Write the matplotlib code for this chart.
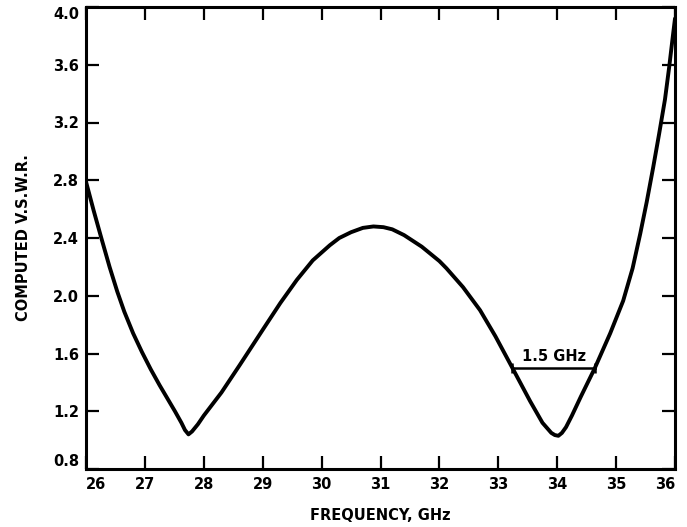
import matplotlib
matplotlib.use("Agg")
import matplotlib.pyplot as plt

# Data
freq = [26.0, 26.13, 26.26, 26.4, 26.53, 26.65, 26.8, 26.95, 27.1, 27.25, 27.38, 27.51,
        27.62, 27.68, 27.74, 27.8, 27.9, 28.0, 28.3, 28.61, 29.01, 29.3, 29.58,
        29.85, 30.14, 30.3, 30.5, 30.7, 30.88, 31.05, 31.2, 31.4, 31.55, 31.7,
        31.85, 32.0, 32.12, 32.4, 32.69, 32.95, 33.2, 33.54, 33.75, 33.9, 33.96,
        34.02, 34.08, 34.15, 34.25, 34.4, 34.64, 34.9, 35.12, 35.28, 35.41,
        35.52, 35.63, 35.73, 35.83, 35.9, 35.97, 36.0]
vswr = [2.79, 2.59, 2.40, 2.20, 2.03, 1.89, 1.74, 1.61, 1.49, 1.38, 1.29, 1.20,
        1.12, 1.07, 1.04, 1.06, 1.11, 1.17, 1.33, 1.52, 1.77, 1.95, 2.11,
        2.245, 2.35, 2.40, 2.44, 2.47, 2.48, 2.475, 2.46, 2.42, 2.38, 2.34,
        2.29, 2.24, 2.19, 2.06, 1.90, 1.72, 1.53, 1.27, 1.12, 1.05, 1.035,
        1.03, 1.05, 1.09, 1.17, 1.30, 1.50, 1.74, 1.965, 2.19, 2.43,
        2.65, 2.89, 3.12, 3.36, 3.58, 3.82, 3.92]

bw_start, bw_end, bw_level = 33.23, 34.65, 1.5
bw_label = "1.5 GHz"

x_ticks = [26, 27, 28, 29, 30, 31, 32, 33, 34, 35, 36]
y_ticks = [0.8, 1.2, 1.6, 2.0, 2.4, 2.8, 3.2, 3.6, 4.0]
x_label = "FREQUENCY, GHz"
y_label = "COMPUTED V.S.W.R."

plt.rcParams['font.family'] = ['DejaVu Sans']
plt.rcParams['font.weight'] = 'bold'

fig = plt.figure(figsize=(6.87, 5.27), dpi=100)
ax = fig.add_axes([86/687, 1 - 469/527, (675 - 86)/687, (469 - 7)/527])

ax.plot(freq, vswr, color='black', lw=2.8, solid_joinstyle='round',
        solid_capstyle='round')

ax.plot([bw_start, bw_end], [bw_level, bw_level], color='black', lw=1.8)
ax.plot([bw_start, bw_end], [bw_level, bw_level], ls='none', marker='|',
        ms=7, mew=1.8, color='black')
ax.text((bw_start + bw_end) / 2, bw_level + 0.03, bw_label, ha='center',
        va='bottom', fontsize=10.5, fontweight='bold')

ax.set_xlim(26, 36)
ax.set_ylim(0.8, 4.0)
ax.set_xticks(x_ticks)
ax.set_yticks(y_ticks)
ax.set_xticklabels([str(t) for t in x_ticks], fontsize=10.5, fontweight='bold')
ax.set_yticklabels([f"{t:.1f}" for t in y_ticks], fontsize=10.5, fontweight='bold')

xl = ax.get_xticklabels()
xl[0].set_ha('left')
xl[-1].set_ha('right')
yl = ax.get_yticklabels()
yl[0].set_va('bottom')
yl[-1].set_va('top')

ax.tick_params(axis='both', direction='in', length=9.5, width=1.6,
               top=True, right=True)
ax.tick_params(axis='x', pad=6)
ax.tick_params(axis='y', pad=5)
for s in ax.spines.values():
    s.set_linewidth(2.2)

ax.set_xlabel(x_label, fontsize=10.5, fontweight='bold', labelpad=11)
ax.set_ylabel(y_label, fontsize=10.5, fontweight='bold', labelpad=16)

fig.savefig("out.png", dpi=100)
